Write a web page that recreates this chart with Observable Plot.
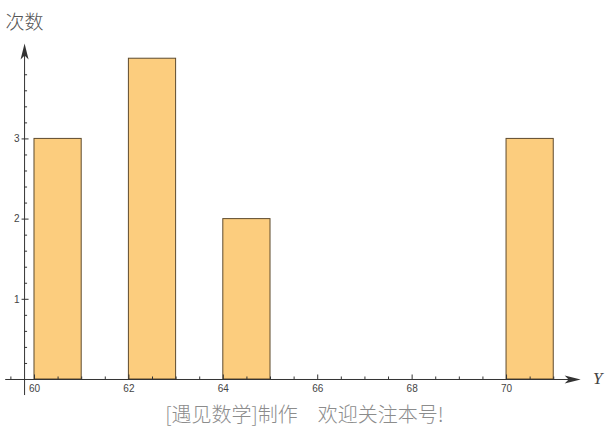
<!DOCTYPE html>
<html>
<head>
<meta charset="utf-8">
<script src="https://cdn.jsdelivr.net/npm/d3@7"></script>
<script src="https://cdn.jsdelivr.net/npm/@observablehq/plot@0.6"></script>
<style>
  html, body { margin: 0; padding: 0; background: #fff; }
  #chart svg { display: block; }
</style>
</head>
<body>
<div id="chart"></div>
<script>
// ---- data ----
const binStarts = [60, 62, 64, 70];
const binCounts = [3, 4, 2, 3];
const binWidth = 1;
const xTickLabels = [60, 62, 64, 66, 68, 70];
const yTickLabels = [1, 2, 3];
const yAxisTitle = "次数";
const xAxisTitle = "Y";
const caption = "[遇见数学]制作　欢迎关注本号!";

// ---- axis geometry (data units) ----
const xOrigin = 59.79;      // where the vertical axis crosses
const xStart = 59.39, xEnd = 71.57;
const yStart = -0.2, yEnd = 4.19;
const pxX = 1 / 47.2, pxY = 1 / 80.2;

const bars = binStarts.map((s, i) => ({start: s, end: s + binWidth, count: binCounts[i]}));
const xMinor = d3.range(59.5, 71.01, 0.5).filter(v => !xTickLabels.includes(v));
const yMinor = d3.range(1, 20).map(k => +(k * 0.2).toFixed(1)).filter(v => !Number.isInteger(v));

const axisColor = "#333";
const arrowRight = {draw(ctx) { ctx.moveTo(0, 0); ctx.lineTo(-16, -4); ctx.lineTo(-12, 0); ctx.lineTo(-16, 4); ctx.closePath(); }};
const arrowUp = {draw(ctx) { ctx.moveTo(0, 0); ctx.lineTo(-4, 16); ctx.lineTo(0, 12); ctx.lineTo(4, 16); ctx.closePath(); }};

const chart = Plot.plot({
  width: 608,
  height: 430,
  marginLeft: 0, marginRight: 0, marginTop: 0, marginBottom: 0,
  style: {background: "#fff", fontFamily: "Arial, 'Liberation Sans', sans-serif"},
  x: {domain: [59.28, 72.16], axis: null},
  y: {domain: [-0.636, 4.726], axis: null},
  marks: [
    Plot.rectY(bars, {x1: "start", x2: "end", y: "count", fill: "#fccd7e", stroke: "#5e4b2e", strokeWidth: 1}),
    // x axis
    Plot.ruleY([0], {x1: xStart, x2: xEnd - 10 * pxX, stroke: axisColor, strokeWidth: 1}),
    Plot.ruleX(xMinor, {x: d => d, y1: 0, y2: 2.5 * pxY, stroke: axisColor}),
    Plot.ruleX(xTickLabels, {x: d => d, y1: 0, y2: 4.5 * pxY, stroke: axisColor}),
    Plot.text(xTickLabels, {x: d => d, y: 0, dy: 9, text: d => String(d), fontSize: 10, fill: "#444"}),
    Plot.dot([{x: xEnd, y: 0}], {x: "x", y: "y", symbol: arrowRight, fill: axisColor, stroke: "none"}),
    Plot.text([xAxisTitle], {x: xEnd, y: 0, dx: 17, dy: -1, text: d => d, fontSize: 17, fontStyle: "italic", fontFamily: "'Liberation Serif', 'DejaVu Serif', serif", fill: "#444"}),
    // y axis
    Plot.ruleX([xOrigin], {y1: yStart, y2: yEnd - 10 * pxY, stroke: axisColor, strokeWidth: 1}),
    Plot.ruleY(yMinor, {y: d => d, x1: xOrigin, x2: xOrigin + 3 * pxX, stroke: axisColor}),
    Plot.ruleY(yTickLabels, {y: d => d, x1: xOrigin - 2.5 * pxX, x2: xOrigin + 4.5 * pxX, stroke: axisColor}),
    Plot.text(yTickLabels, {x: xOrigin, y: d => d, dx: -5, text: d => String(d), textAnchor: "end", fontSize: 10, fill: "#444"}),
    Plot.dot([{x: xOrigin, y: yEnd}], {x: "x", y: "y", symbol: arrowUp, fill: axisColor, stroke: "none"}),
    Plot.text([yAxisTitle], {x: xOrigin, y: yEnd, dy: -21, text: d => d, fontSize: 19, fill: "#555", fontWeight: 300, fontFamily: "'Noto Sans CJK SC', sans-serif"}),
    // caption
    Plot.text([caption], {frameAnchor: "bottom", lineAnchor: "middle", dy: -15, text: d => d, fontSize: 20, fill: "#8c8c8c", fontFamily: "'Noto Sans CJK SC', serif", fontWeight: 300})
  ]
});
document.getElementById("chart").append(chart);
</script>
</body>
</html>
